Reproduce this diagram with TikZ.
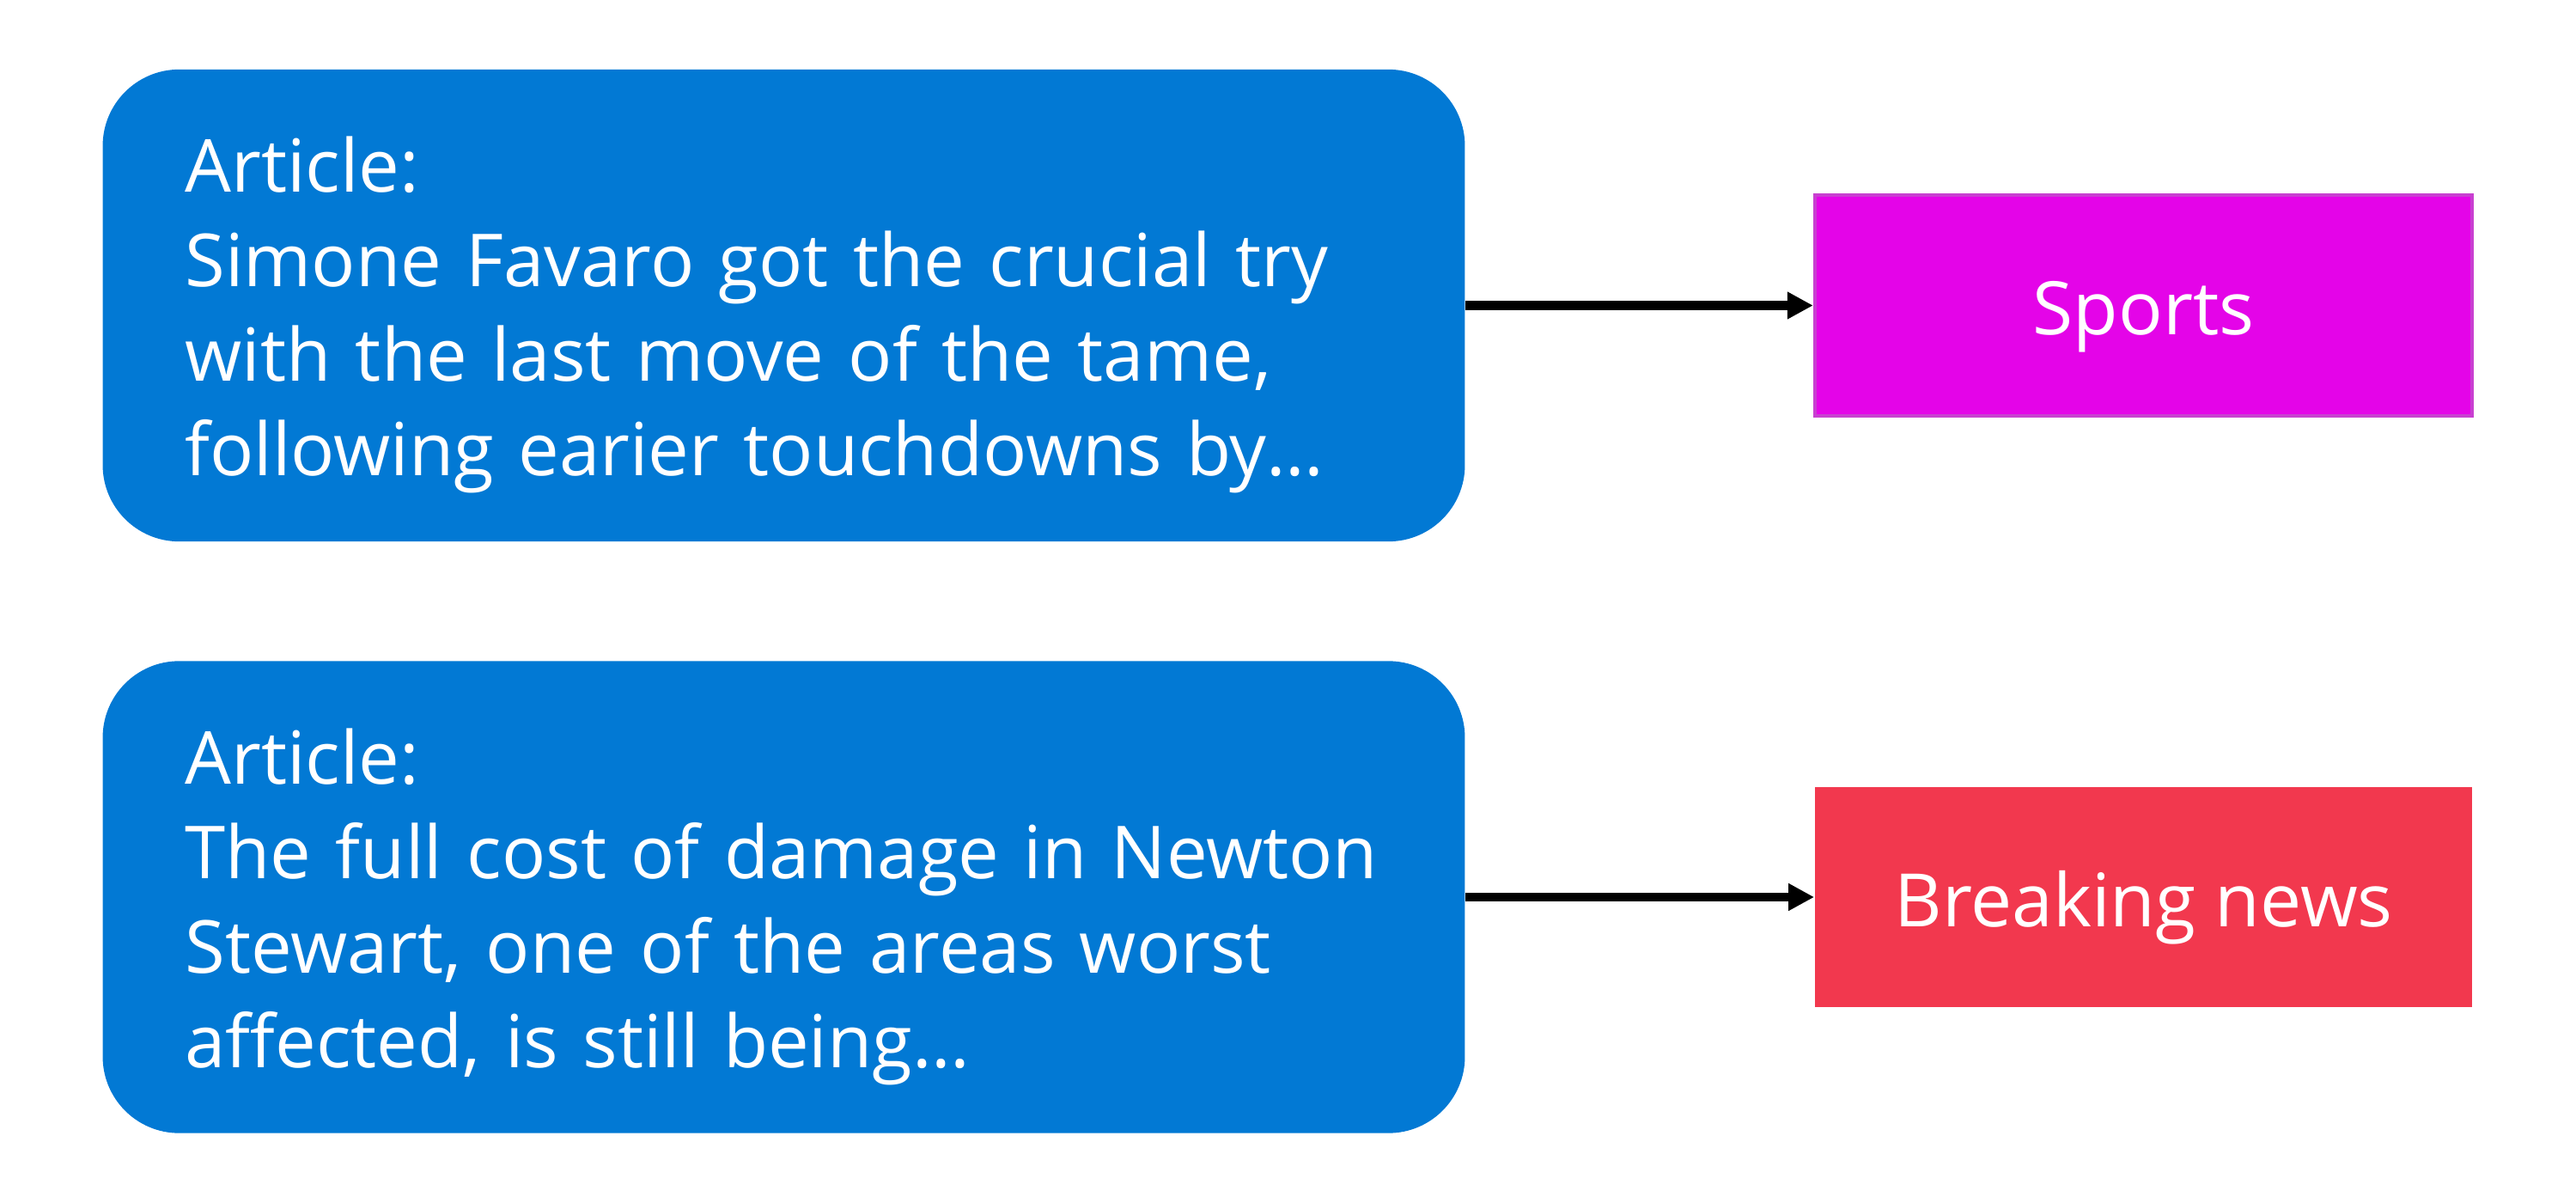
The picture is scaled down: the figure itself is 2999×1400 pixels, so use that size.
\documentclass[tikz,border=0pt]{standalone}
\usepackage{fontspec}
\setmainfont{Open Sans}
\usetikzlibrary{arrows.meta}
\definecolor{artblue}{HTML}{0279D4}
\definecolor{sportmag}{HTML}{E404E8}
\definecolor{sportedge}{HTML}{C840D0}
\definecolor{newsred}{HTML}{F2384E}
\begin{document}
\begin{tikzpicture}[x=0.01cm,y=-0.01cm,
  article/.style={fill=artblue, rounded corners=0.89cm, minimum width=15.85cm, minimum height=5.49cm,
    inner xsep=0.96cm, text width=13.93cm, align=left, text=white,
    font=\fontsize{24.2}{31.3}\selectfont},
  label box/.style={minimum width=7.65cm, minimum height=2.56cm, text=white,
    text height=0.98cm, text depth=0.3cm, font=\fontsize{24.4}{30}\selectfont},
  conn/.style={line width=0.1cm, -{Triangle[length=0.3cm,width=0.3cm]}}]
\useasboundingbox (0,0) rectangle (2999,1400);
\node[article] (a1) at (912.5,355.5) {\rule{0pt}{0.87cm}\mbox{Article:}\\\mbox{Simone Favaro got the crucial try}\\\mbox{with the last move of the tame,}\\\mbox{following earier touchdowns by…}};
\node[article] (a2) at (912.5,1044) {\rule{0pt}{0.87cm}\mbox{Article:}\\\mbox{The full cost of damage in Newton}\\\mbox{Stewart, one of the areas worst}\\\mbox{affected, is still being…}};
\node[label box, fill=sportmag, draw=sportedge, line width=0.04cm] (s) at (2495.5,355.5) {Sports};
\node[label box, fill=newsred] (b) at (2495.5,1044) {Breaking news};
\draw[conn] (a1) -- (s);
\draw[conn] (a2) -- (b);
\end{tikzpicture}
\end{document}
